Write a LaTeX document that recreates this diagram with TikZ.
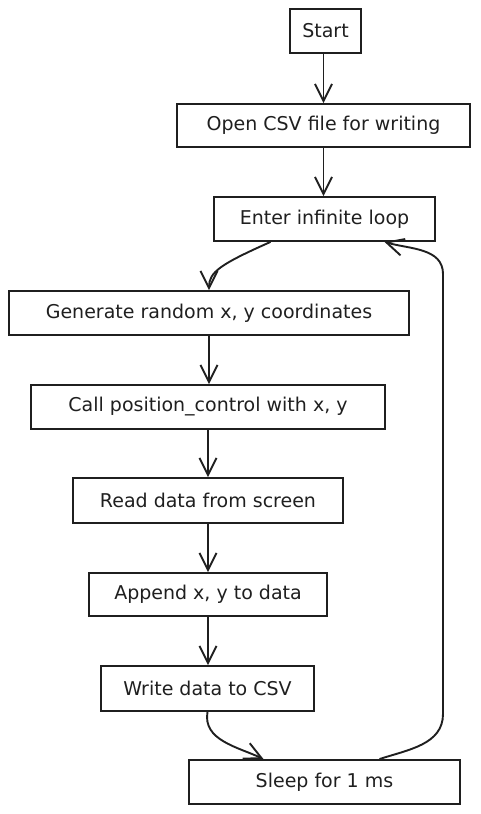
\documentclass[tikz,border=0pt]{standalone}
\usepackage{fontspec}
\setmainfont{DejaVu Sans}
\usepackage{tikz}
\usetikzlibrary{positioning}
\usetikzlibrary{arrows.meta}
\definecolor{inkblack}{rgb}{0.12, 0.12, 0.12}

\begin{document}
\begin{tikzpicture}[x=1pt, y=1pt,
    stepbox/.style={draw=inkblack, line width=1.9pt, inner sep=0pt, text=inkblack, font=\fontsize{19}{22}\selectfont},
    flow/.style={draw=inkblack, line width=1.9pt, -{Straight Barb[length=17pt, width=17pt, line width=1.9pt]}}]
%
\useasboundingbox (0, 0) rectangle (481, 814);

%
\node[stepbox, minimum width=71pt, minimum height=44pt] (start) at (325.5, 783) {Start};
\node[stepbox, minimum width=293pt, minimum height=43pt] (opencsv) at (323.5, 688.5) {Open CSV file for writing};
\node[stepbox, minimum width=221pt, minimum height=44pt] (enterloop) at (324.5, 595) {Enter infinite loop};
\node[stepbox, minimum width=400pt, minimum height=44pt] (genxy) at (209, 501) {Generate random x, y coordinates};
\node[stepbox, minimum width=354pt, minimum height=44pt] (callpos) at (208, 407) {Call position\_control with x, y};
\node[stepbox, minimum width=270pt, minimum height=45pt] (readscreen) at (208, 313.5) {Read data from screen};
\node[stepbox, minimum width=238pt, minimum height=43pt] (appendxy) at (208, 219.5) {Append x, y to data};
\node[stepbox, minimum width=213pt, minimum height=45pt] (writecsv) at (207.5, 125.5) {Write data to CSV};
\node[stepbox, minimum width=271pt, minimum height=44pt] (sleepms) at (324.5, 32) {Sleep for 1 ms};

%
\coordinate (backlow) at (443, 100);
\coordinate (backhigh) at (443, 540);

%
\draw[flow] (start.south -| opencsv.north) -- (opencsv.north);
\draw[flow] (opencsv.south) -- (opencsv.south |- enterloop.north);
\draw[flow] ([xshift=-54pt]enterloop.south) .. controls +(204:55) and +(90:18) .. (genxy.north);
\draw[flow] (genxy.south) -- (genxy.south |- callpos.north);
\draw[flow] (callpos.south) -- (callpos.south |- readscreen.north);
\draw[flow] (readscreen.south) -- (readscreen.south |- appendxy.north);
\draw[flow] (appendxy.south) -- (appendxy.south |- writecsv.north);
\draw[flow] (writecsv.south) to[out=-100, in=155] ([xshift=-61pt]sleepms.north);

%
\draw[flow] ([xshift=55pt]sleepms.north) to[out=18, in=-90] (backlow) -- (backhigh) to[out=90, in=-16] ([xshift=60pt]enterloop.south);

\end{tikzpicture}
\end{document}
